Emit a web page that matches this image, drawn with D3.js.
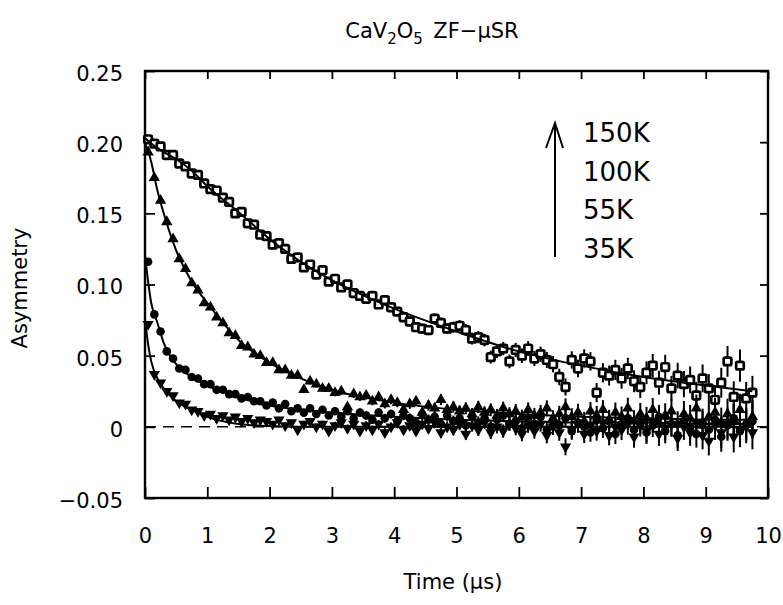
<!DOCTYPE html>
<html>
<head>
<meta charset="utf-8">
<script src="https://cdn.jsdelivr.net/npm/d3@7"></script>
<style>
  body { margin: 0; background: #fff; }
  svg text { font-family: "DejaVu Sans", sans-serif; fill: #000; }
</style>
</head>
<body>
<div class="musr-chart"></div>
<script>
// time bins (us)
const times = [0.05,0.15,0.25,0.35,0.45,0.55,0.65,0.75,0.85,0.95,
  1.05,1.15,1.25,1.35,1.45,1.55,1.65,1.75,1.85,1.95,
  2.05,2.15,2.25,2.35,2.45,2.55,2.65,2.75,2.85,2.95,
  3.05,3.15,3.25,3.35,3.45,3.55,3.65,3.75,3.85,3.95,
  4.05,4.15,4.25,4.35,4.45,4.55,4.65,4.75,4.85,4.95,
  5.05,5.15,5.25,5.35,5.45,5.55,5.65,5.75,5.85,5.95,
  6.05,6.15,6.25,6.35,6.45,6.55,6.65,6.75,6.85,6.95,
  7.05,7.15,7.25,7.35,7.45,7.55,7.65,7.75,7.85,7.95,
  8.05,8.15,8.25,8.35,8.45,8.55,8.65,8.75,8.85,8.95,
  9.05,9.15,9.25,9.35,9.45,9.55,9.65,9.75];

// statistical error per bin
const errors = [0.0013,0.0013,0.0013,0.0014,0.0014,0.0014,0.0015,0.0015,0.0015,0.0016,
  0.0016,0.0016,0.0017,0.0017,0.0018,0.0018,0.0018,0.0019,0.0019,0.0020,
  0.0020,0.0021,0.0021,0.0022,0.0022,0.0023,0.0023,0.0024,0.0024,0.0025,
  0.0025,0.0026,0.0027,0.0027,0.0028,0.0029,0.0029,0.0030,0.0031,0.0031,
  0.0032,0.0033,0.0034,0.0034,0.0035,0.0036,0.0037,0.0038,0.0038,0.0039,
  0.0040,0.0041,0.0042,0.0043,0.0044,0.0045,0.0046,0.0047,0.0048,0.0050,
  0.0051,0.0052,0.0053,0.0054,0.0056,0.0057,0.0058,0.0060,0.0061,0.0062,
  0.0064,0.0065,0.0067,0.0068,0.0070,0.0071,0.0073,0.0075,0.0077,0.0078,
  0.0080,0.0082,0.0084,0.0086,0.0088,0.0090,0.0092,0.0094,0.0096,0.0098,
  0.0101,0.0103,0.0105,0.0108,0.0110,0.0113,0.0115,0.0118];

const asym150K = [0.202,0.199,0.197,0.191,0.191,0.185,0.183,0.178,0.177,0.171,
  0.167,0.166,0.161,0.158,0.150,0.151,0.143,0.142,0.135,0.134,
  0.128,0.129,0.125,0.118,0.119,0.112,0.114,0.107,0.110,0.102,
  0.104,0.098,0.100,0.094,0.092,0.090,0.092,0.086,0.089,0.084,
  0.081,0.077,0.074,0.070,0.069,0.068,0.076,0.073,0.069,0.070,
  0.071,0.068,0.062,0.063,0.061,0.049,0.053,0.055,0.046,0.054,
  0.050,0.055,0.048,0.051,0.047,0.044,0.035,0.028,0.047,0.041,
  0.048,0.046,0.024,0.038,0.036,0.040,0.034,0.041,0.032,0.028,
  0.038,0.043,0.031,0.042,0.027,0.036,0.030,0.033,0.022,0.034,
  0.027,0.019,0.031,0.046,0.021,0.043,0.020,0.024];

const asym100K = [0.193,0.175,0.159,0.144,0.132,0.118,0.111,0.101,0.096,0.087,
  0.084,0.077,0.073,0.066,0.064,0.057,0.056,0.051,0.050,0.045,
  0.045,0.040,0.040,0.036,0.036,0.026,0.032,0.030,0.027,0.027,
  0.024,0.025,0.014,0.023,0.021,0.022,0.018,0.021,0.016,0.019,
  0.017,0.012,0.016,0.018,0.010,0.015,0.013,0.019,0.012,0.014,
  0.011,0.013,0.009,0.014,0.010,0.012,0.008,0.013,0.009,0.011,
  0.007,0.012,0.008,0.010,0.013,0.006,0.009,0.014,0.007,0.010,
  0.004,0.011,0.008,0.012,0.005,0.010,0.007,0.013,0.004,0.009,
  0.006,0.012,0.003,0.008,0.011,0.002,0.009,0.006,0.013,0.001,
  0.007,0.010,0.003,0.009,0.005,0.012,0.002,0.007];

const asym55K = [0.116,0.079,0.067,0.053,0.048,0.041,0.040,0.035,0.034,0.030,
  0.030,0.026,0.026,0.023,0.023,0.020,0.021,0.018,0.018,0.015,
  0.017,0.013,0.016,0.011,0.013,0.010,0.013,0.009,0.012,0.008,
  0.011,0.007,0.011,0.006,0.010,0.008,0.005,0.010,0.006,0.009,
  0.004,0.008,0.006,0.003,0.009,0.005,0.007,0.002,0.008,0.004,
  0.006,0.001,0.007,0.003,0.006,0.000,0.005,0.008,0.002,0.004,
  -0.001,0.006,0.002,0.007,-0.002,0.004,0.001,0.006,-0.003,0.003,
  0.000,-0.004,0.005,-0.001,0.004,-0.005,0.002,0.006,-0.002,0.003,
  -0.004,0.001,0.007,-0.003,0.002,-0.006,0.004,0.000,-0.005,0.003,
  -0.002,0.005,-0.007,0.001,0.006,-0.003,0.002,0.004];

const asym35K = [0.072,0.037,0.031,0.025,0.022,0.017,0.016,0.012,0.011,0.008,
  0.009,0.006,0.008,0.005,0.007,0.004,0.006,0.003,0.005,0.004,
  0.002,0.005,0.001,0.003,-0.002,0.002,0.004,0.000,0.002,-0.003,
  0.001,0.003,-0.001,0.002,-0.003,0.001,-0.002,0.002,-0.004,0.000,
  0.003,-0.002,0.001,-0.003,0.002,-0.001,0.003,-0.004,0.000,-0.002,
  0.002,-0.005,0.001,-0.002,0.003,-0.004,0.000,-0.003,0.002,-0.001,
  -0.005,0.001,-0.003,0.002,-0.006,0.000,-0.004,-0.014,-0.002,0.002,
  -0.005,0.001,-0.003,0.003,-0.006,0.000,-0.002,0.002,-0.007,0.001,
  -0.003,0.004,-0.005,-0.001,0.002,-0.008,0.000,-0.004,0.003,-0.006,
  -0.010,0.001,-0.004,0.002,-0.007,-0.002,0.000,-0.004];

// fitted curves
const fitTimes = [0,0.05,0.1,0.2,0.3,0.5,0.75,1,1.5,2,2.5,3,4,5,6,7,8,9,9.75];
const fit150K = [0.203,0.201,0.199,0.196,0.193,0.188,0.180,0.169,0.151,0.132,0.116,0.103,0.083,0.067,0.053,0.043,0.035,0.029,0.025];
const fit100K = [0.199,0.194,0.186,0.166,0.150,0.124,0.102,0.087,0.061,0.045,0.034,0.026,0.017,0.012,0.009,0.007,0.006,0.005,0.005];
const fit55K  = [0.121,0.102,0.087,0.073,0.059,0.044,0.035,0.029,0.021,0.015,0.012,0.010,0.007,0.005,0.004,0.003,0.003,0.002,0.002];
const fit35K  = [0.076,0.058,0.046,0.034,0.027,0.018,0.012,0.007,0.002,0.0005,0,0,0,0,0,0,0,0,0];

const legendLabels = ["150K", "100K", "55K", "35K"];
const xTicks = [0,1,2,3,4,5,6,7,8,9,10];
const yTicks = [-0.05,0,0.05,0.10,0.15,0.20,0.25];

const width = 783, height = 605;
const margin = { left: 145, right: 15, top: 71, bottom: 107 };

const svg = d3.select(".musr-chart")
  .append("svg")
  .attr("width", width)
  .attr("height", height);

const x = d3.scaleLinear().domain([0, 10]).range([margin.left, width - margin.right]);
const y = d3.scaleLinear().domain([-0.05, 0.25]).range([height - margin.bottom, margin.top]);

// title
const title = svg.append("text")
  .attr("x", 432).attr("y", 38)
  .attr("text-anchor", "middle")
  .style("font-size", "21px");
title.append("tspan").text("CaV");
title.append("tspan").text("2").attr("dy", 6).style("font-size", "15px");
title.append("tspan").text("O").attr("dy", -6);
title.append("tspan").text("5").attr("dy", 6).style("font-size", "15px");
title.append("tspan").text("\u2002ZF\u2212\u03bcSR").attr("dy", -6);

// axes: ticks inward on all sides
const fmtY = d => d === 0 ? "0" : d3.format(".2f")(d).replace("-", "\u2212");

svg.append("g")
  .attr("transform", "translate(0," + y(-0.05) + ")")
  .call(d3.axisBottom(x).tickValues(xTicks).tickSize(-11).tickPadding(30).tickFormat(d3.format("d")))
  .call(g => g.select(".domain").remove())
  .call(g => g.selectAll("text").style("font-size", "21px"));

svg.append("g")
  .attr("transform", "translate(" + x(0) + ",0)")
  .call(d3.axisLeft(y).tickValues(yTicks).tickSize(-10).tickPadding(22).tickFormat(fmtY))
  .call(g => g.select(".domain").remove())
  .call(g => g.selectAll("text").style("font-size", "21px").attr("dy", "0.45em"));

svg.append("g")
  .attr("transform", "translate(0," + y(0.25) + ")")
  .call(d3.axisTop(x).tickValues(xTicks).tickSize(-8).tickFormat(""))
  .call(g => g.select(".domain").remove());

svg.append("g")
  .attr("transform", "translate(" + x(10) + ",0)")
  .call(d3.axisRight(y).tickValues(yTicks).tickSize(-8).tickFormat(""))
  .call(g => g.select(".domain").remove());

svg.selectAll(".tick line").attr("stroke", "#000").attr("stroke-width", 1.8);

svg.append("rect")
  .attr("x", x(0)).attr("y", y(0.25))
  .attr("width", x(10) - x(0)).attr("height", y(-0.05) - y(0.25))
  .attr("fill", "none").attr("stroke", "#000").attr("stroke-width", 2.4);

// axis titles
svg.append("text")
  .attr("transform", "translate(27," + 288 + ") rotate(-90)")
  .attr("text-anchor", "middle")
  .style("font-size", "21px")
  .text("Asymmetry");

svg.append("text")
  .attr("x", 453).attr("y", 589)
  .attr("text-anchor", "middle")
  .style("font-size", "21px")
  .text("Time (\u03bcs)");

// zero line
svg.append("line")
  .attr("x1", x(0)).attr("x2", x(10))
  .attr("y1", y(0)).attr("y2", y(0))
  .attr("stroke", "#000").attr("stroke-width", 1.5)
  .attr("stroke-dasharray", "11,7");

const plot = svg.append("g");

const series = [
  { values: asym150K, fit: fit150K, marker: "square" },
  { values: asym100K, fit: fit100K, marker: "up" },
  { values: asym55K, fit: fit55K, marker: "circle" },
  { values: asym35K, fit: fit35K, marker: "down" }
];

const line = d3.line()
  .x((d, i) => x(fitTimes[i]))
  .y(d => y(d))
  .curve(d3.curveMonotoneX);

series.forEach(s => {
  const pts = s.values.map((v, i) => ({ t: times[i], v: v, e: errors[i] }));

  plot.append("g").selectAll("line")
    .data(pts)
    .enter()
    .append("line")
    .attr("x1", d => x(d.t)).attr("x2", d => x(d.t))
    .attr("y1", d => y(d.v - d.e)).attr("y2", d => y(d.v + d.e))
    .attr("stroke", "#000").attr("stroke-width", 2);

  const g = plot.append("g");
  if (s.marker === "square") {
    g.selectAll("rect")
      .data(pts)
      .enter()
      .append("rect")
      .attr("x", d => x(d.t) - 3.8).attr("y", d => y(d.v) - 3.8)
      .attr("width", 7.6).attr("height", 7.6)
      .attr("rx", 1.5)
      .attr("fill", "#fff").attr("stroke", "#000").attr("stroke-width", 2.7);
  } else if (s.marker === "circle") {
    g.selectAll("circle")
      .data(pts)
      .enter()
      .append("circle")
      .attr("cx", d => x(d.t)).attr("cy", d => y(d.v))
      .attr("r", 4.3)
      .attr("fill", "#000");
  } else {
    const rot = s.marker === "down" ? 180 : 0;
    g.selectAll("path")
      .data(pts)
      .enter()
      .append("path")
      .attr("d", d3.symbol().type(d3.symbolTriangle).size(55))
      .attr("transform", d => "translate(" + x(d.t) + "," + y(d.v) + ") rotate(" + rot + ")")
      .attr("fill", "#000");
  }
});

series.forEach(s => {
  plot.append("path")
    .datum(s.fit)
    .attr("d", line)
    .attr("fill", "none")
    .attr("stroke", "#000")
    .attr("stroke-width", 2);
});

// legend: arrow pointing towards higher temperatures
const arrowX = 555;
svg.append("line")
  .attr("x1", arrowX).attr("x2", arrowX)
  .attr("y1", 257).attr("y2", 123)
  .attr("stroke", "#000").attr("stroke-width", 2);
svg.append("path")
  .attr("d", "M" + (arrowX - 9) + ",148 L" + arrowX + ",123 L" + (arrowX + 8) + ",148")
  .attr("fill", "none").attr("stroke", "#000").attr("stroke-width", 2);

svg.append("g").selectAll("text")
  .data(legendLabels)
  .enter()
  .append("text")
  .attr("x", 583)
  .attr("y", (d, i) => 142 + i * 38.5)
  .style("font-size", "26px")
  .text(d => d);
</script>
</body>
</html>
